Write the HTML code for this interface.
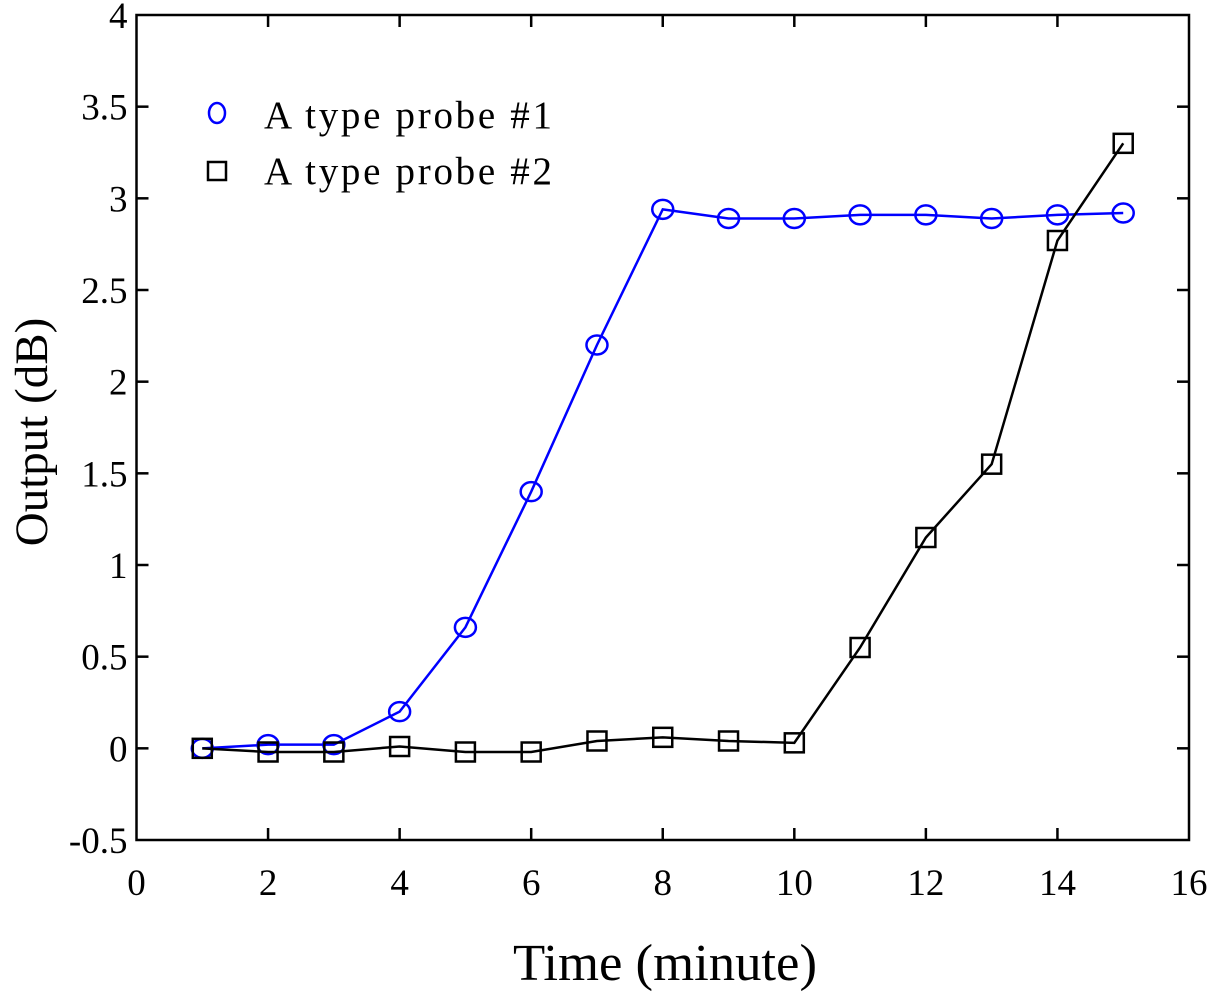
<!DOCTYPE html>
<html><head><meta charset="utf-8"><style>
body{margin:0;background:#fff;}
svg text{font-family:"Liberation Serif",serif;fill:#000;}
</style></head><body>
<svg id="chart" width="1210" height="1000" xmlns="http://www.w3.org/2000/svg">
<g id="axes"></g>
<g id="series"></g>
<g>
  <ellipse cx="217" cy="113" rx="8" ry="10" fill="none" stroke="#0000ff" stroke-width="2.5"/>
  <text x="264" y="128" font-size="39" textLength="288" lengthAdjust="spacing">A type probe #1</text>
  <rect x="208" y="162" width="18" height="18" fill="none" stroke="#000" stroke-width="2.5"/>
  <text x="264" y="184" font-size="39" textLength="288" lengthAdjust="spacing">A type probe #2</text>
</g>
<text x="513" y="980" font-size="52" textLength="304" lengthAdjust="spacingAndGlyphs">Time (minute)</text>
<text transform="translate(47,432) rotate(-90)" font-size="47" text-anchor="middle">Output (dB)</text>
</svg>
<script>
const times = [1,2,3,4,5,6,7,8,9,10,11,12,13,14,15];
const probe1 = [0,0.02,0.02,0.2,0.66,1.4,2.2,2.94,2.89,2.89,2.91,2.91,2.89,2.91,2.92];
const probe2 = [0,-0.02,-0.02,0.01,-0.02,-0.02,0.04,0.06,0.04,0.03,0.55,1.15,1.55,2.77,3.3];
const xTicks = [0,2,4,6,8,10,12,14,16];
const yTicks = [-0.5,0,0.5,1,1.5,2,2.5,3,3.5,4];
const yTickLabels = ["-0.5","0","0.5","1","1.5","2","2.5","3","3.5","4"];

const L=136.5,R=1189,T=15,B=840;
const xs=v=>L+(v-0)/16*(R-L);
const ys=v=>B-(v+0.5)/4.5*(B-T);
const NS="http://www.w3.org/2000/svg";
function mk(tag,attrs,parent){const e=document.createElementNS(NS,tag);for(const k in attrs)e.setAttribute(k,attrs[k]);parent.appendChild(e);return e;}
const axes=document.getElementById('axes'),series=document.getElementById('series');
const frame=mk('rect',{x:L,y:T,width:R-L,height:B-T,fill:'none',stroke:'#000','stroke-width':2.5},axes);


xTicks.forEach(v=>{
  const x=xs(v);
  if(v>0&&v<16){
    const t1=mk('line',{x1:x,x2:x,y1:B,y2:B-12,stroke:'#000','stroke-width':2.5},axes);
    
    
    const t2=mk('line',{x1:x,x2:x,y1:T,y2:T+12,stroke:'#000','stroke-width':2.5},axes);
    
    
  }
  const tl=mk('text',{x:x,y:B+55,'font-size':37,'text-anchor':'middle'},axes);
  tl.textContent=v;
  
  
});
yTicks.forEach((v,i)=>{
  const y=ys(v);
  if(i>0&&i<yTicks.length-1){
    const t1=mk('line',{x1:L,x2:L+12,y1:y,y2:y,stroke:'#000','stroke-width':2.5},axes);
    
    
    const t2=mk('line',{x1:R,x2:R-12,y1:y,y2:y,stroke:'#000','stroke-width':2.5},axes);
    
    
  }
  const tl=mk('text',{x:L-9,y:y+13,'font-size':37,'text-anchor':'end'},axes);
  tl.textContent=yTickLabels[i];
  
  
});
function draw(vals,color,name,shape){
  const pts=times.map((t,i)=>xs(t)+','+ys(vals[i])).join(' ');
  const pl=mk('polyline',{points:pts,fill:'none',stroke:color,'stroke-width':2.5},series);
  
  
  times.forEach((t,i)=>{
    const x=xs(t),y=ys(vals[i]);
    let m;
    if(shape==='circle') m=mk('ellipse',{cx:x,cy:y,rx:10.5,ry:9.5,fill:'none',stroke:color,'stroke-width':2.5},series);
    else m=mk('rect',{x:x-9.5,y:y-9.5,width:19,height:19,fill:'none',stroke:color,'stroke-width':2.5},series);
    
    
  });
}
draw(probe1,'#0000ff','probe-1','circle');
draw(probe2,'#000000','probe-2','square');
</script>
</body></html>
